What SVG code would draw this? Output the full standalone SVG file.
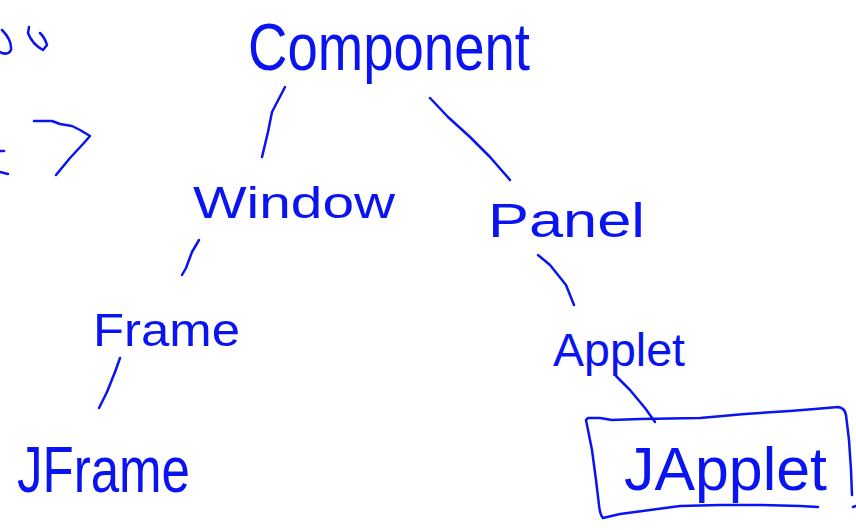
<svg xmlns="http://www.w3.org/2000/svg" width="856" height="530" viewBox="0 0 856 530">
<style>
.lbl{font-family:"Liberation Sans","DejaVu Sans",sans-serif;fill:#0a14f0;}
.ln{stroke:#0a14f0;stroke-width:2.5;fill:none;stroke-linecap:round;stroke-linejoin:round;}
</style>
<rect width="856" height="530" fill="#ffffff"/>
<g id="fragments">
<path class="ln" d="M2,30 Q12,40 11,50 Q8,56 0,52"/>
<path class="ln" d="M29,27 L28,33 Q32,44 43,50 L47,45 Q45,38 40,33"/>
<path class="ln" d="M34,121 L52,121 L60,124 L72,126 L80,130 L90,136 L83,144 L70,158 L56,175"/>
<path class="ln" d="M0,151 L4,151"/>
<path class="ln" d="M0,172 L8,174"/>
</g>
<g id="connectors">
<path class="ln" d="M285,87 L272,112 L268,132 L262,157"/>
<path class="ln" d="M430,98 L448,117 L470,137 L490,157 L510,180"/>
<path class="ln" d="M199,240 L192,252 L186,268 L182,275"/>
<path class="ln" d="M538,255 L550,265 L566,285 L574,305"/>
<path class="ln" d="M120,358 L115,372 L107,392 L99,408"/>
<path class="ln" d="M616,376 L630,390 L645,408 L655,422"/>
</g>
<g id="node-component"><text class="lbl" x="248" y="70" font-size="66" textLength="282" lengthAdjust="spacingAndGlyphs">Component</text></g>
<g id="node-window"><text class="lbl" x="193" y="218" font-size="44" textLength="202" lengthAdjust="spacingAndGlyphs">Window</text></g>
<g id="node-panel"><text class="lbl" x="488" y="237" font-size="48" textLength="157" lengthAdjust="spacingAndGlyphs">Panel</text></g>
<g id="node-frame"><text class="lbl" x="93" y="346" font-size="46" textLength="147" lengthAdjust="spacingAndGlyphs">Frame</text></g>
<g id="node-applet"><text class="lbl" x="553" y="366" font-size="46" textLength="132" lengthAdjust="spacingAndGlyphs">Applet</text></g>
<g id="node-jframe"><text class="lbl" x="17" y="492" font-size="64" textLength="173" lengthAdjust="spacingAndGlyphs">JFrame</text></g>
<g id="node-japplet">
<path class="ln" d="M818,507 L800,506 L760,505 L720,505 L680,506 L650,510 L620,514 L603,518 Q600,515 599,505 L596,480 L592,450 L588,430 L586,420 L588,418 L600,418 L612,420 L640,419 L700,418 L745,414 L790,411 L815,409 L838,407 Q845,408 846,415 L849,440 L851,470 L852,495"/>
<path class="ln" d="M853,507 L856,506"/>
<text class="lbl" x="624" y="490" font-size="62" textLength="203" lengthAdjust="spacingAndGlyphs">JApplet</text>
</g>
</svg>
